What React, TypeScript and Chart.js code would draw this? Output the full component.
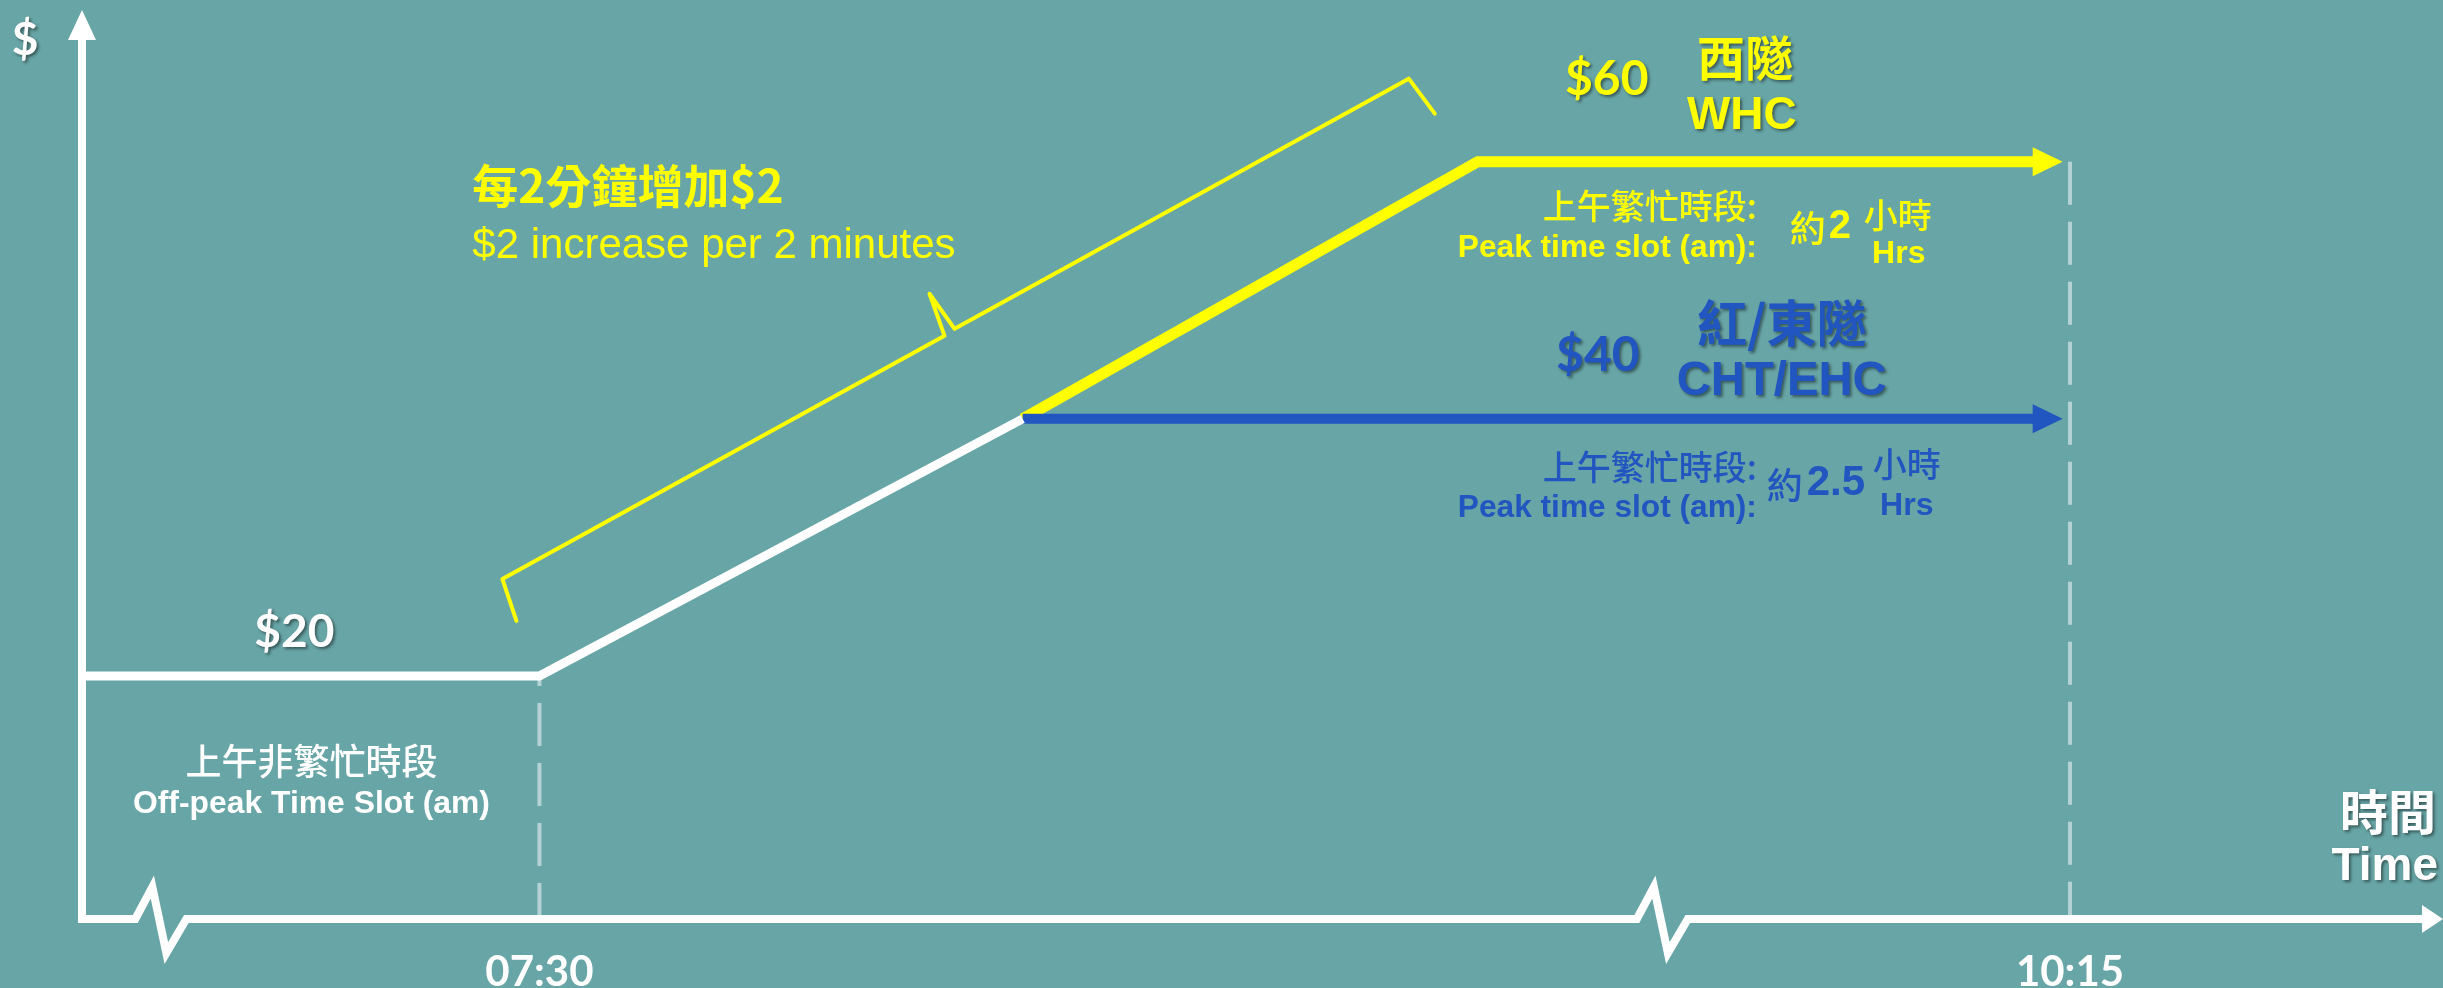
import { useEffect, useRef } from "react";
import { Chart, registerables } from "chart.js";

Chart.register(...registerables);

// ---------- data (schematic time axis: minutes after 07:30 as drawn; y = toll in $) ----------
const xRange = [-19.5, 81.15];
const yRange = [1.1, 71.8];
const tickValues = [0, 65.25];
const tickLabels = ["07:30", "10:15"];

const offPeakX = [-19.5, 0, 20.6];
const offPeakY = [20, 20, 40];
const whcX = [20.6, 40, 63.7];
const whcY = [40, 60, 60];
const ehcX = [20.6, 63.7];
const ehcY = [40, 40];
const braceX = [-0.98, -1.58, 17.27, 16.63, 17.7, 37.06, 38.17];
const braceY = [24.28, 27.55, 46.46, 49.73, 47.0, 66.46, 63.74];
const breakX = [-16.16, 47.85];

// ---------- styles ----------
const BG = "#68A5A6";
const WHITE = "#FFFFFF";
const YELLOW = "#FFFF00";
const BLUE = "#2155C0";
const DASH = "rgba(255,255,255,0.5)";
const CJK = "'Noto Sans CJK TC', 'Noto Sans CJK SC', sans-serif";
const ARIAL = "'Liberation Sans', Arial, sans-serif";
const LATO = "Lato, 'Liberation Sans', sans-serif";

type Note = {
  t: string; x: number; y: number; font: string; c: string;
  align?: CanvasTextAlign; shadow?: boolean; w?: number;
};

const notes: Note[] = [
  { t: "$20", x: -10.45, y: 23.42, font: `700 46px ${LATO}`, c: WHITE, shadow: true },
  { t: "上午非繁忙時段", x: -9.72, y: 13.39, font: `500 36px ${CJK}`, c: WHITE },
  { t: "Off-peak Time Slot (am)", x: -9.72, y: 10.04, font: `700 32px ${ARIAL}`, c: WHITE, w: 357 },
  { t: "每2分鐘增加$2", x: -2.86, y: 58.13, font: `700 46px ${CJK}`, c: YELLOW, align: "left", w: 346 },
  { t: "$2 increase per 2 minutes", x: -2.86, y: 53.4, font: `400 42px ${ARIAL}`, c: YELLOW, align: "left", w: 490 },
  { t: "$60", x: 45.5, y: 66.38, font: `700 48px ${LATO}`, c: YELLOW, shadow: true },
  { t: "西隧", x: 51.39, y: 68.09, font: `700 48px ${CJK}`, c: YELLOW, shadow: true },
  { t: "WHC", x: 51.26, y: 63.5, font: `700 46px ${ARIAL}`, c: YELLOW, shadow: true },
  { t: "上午繁忙時段:", x: 51.9, y: 56.58, font: `500 34px ${CJK}`, c: YELLOW, align: "right", w: 234 },
  { t: "Peak time slot (am):", x: 51.9, y: 53.31, font: `700 32px ${ARIAL}`, c: YELLOW, align: "right", w: 299 },
  { t: "約", x: 54.07, y: 54.79, font: `500 36px ${CJK}`, c: YELLOW },
  { t: "2", x: 55.44, y: 54.94, font: `700 40px ${ARIAL}`, c: YELLOW },
  { t: "小時", x: 57.91, y: 55.88, font: `500 34px ${CJK}`, c: YELLOW },
  { t: "Hrs", x: 57.95, y: 52.84, font: `700 32px ${ARIAL}`, c: YELLOW },
  { t: "$40", x: 45.12, y: 44.9, font: `700 48px ${LATO}`, c: BLUE, shadow: true },
  { t: "紅/東隧", x: 52.96, y: 47.47, font: `700 50px ${CJK}`, c: BLUE, shadow: true, w: 181 },
  { t: "CHT/EHC", x: 52.96, y: 42.88, font: `700 48px ${ARIAL}`, c: BLUE, shadow: true, w: 210 },
  { t: "上午繁忙時段:", x: 51.9, y: 36.26, font: `500 34px ${CJK}`, c: BLUE, align: "right", w: 234 },
  { t: "Peak time slot (am):", x: 51.9, y: 33.07, font: `700 32px ${ARIAL}`, c: BLUE, align: "right", w: 299 },
  { t: "約", x: 53.09, y: 34.86, font: `500 36px ${CJK}`, c: BLUE },
  { t: "2.5", x: 55.27, y: 34.94, font: `700 42px ${ARIAL}`, c: BLUE },
  { t: "小時", x: 58.29, y: 36.5, font: `500 34px ${CJK}`, c: BLUE },
  { t: "Hrs", x: 58.29, y: 33.23, font: `700 32px ${ARIAL}`, c: BLUE },
];

const zip = (xs: number[], ys: number[]) => xs.map((x, i) => ({ x, y: ys[i] }));

function drawText(ctx: CanvasRenderingContext2D, n: Note, px: number, py: number) {
  ctx.save();
  ctx.font = n.font;
  ctx.fillStyle = n.c;
  ctx.textAlign = n.align || "center";
  ctx.textBaseline = "middle";
  if (n.shadow) {
    ctx.shadowColor = "rgba(0,0,0,0.45)";
    ctx.shadowOffsetX = 2;
    ctx.shadowOffsetY = 2;
    ctx.shadowBlur = 3;
  }
  if (n.w) ctx.fillText(n.t, px, py, n.w);
  else ctx.fillText(n.t, px, py);
  ctx.restore();
}

const decorPlugin = {
  id: "decor",
  beforeDraw(chart: any) {
    const ctx = chart.ctx;
    ctx.save();
    ctx.fillStyle = BG;
    ctx.fillRect(0, 0, chart.width, chart.height);
    ctx.restore();
  },
  afterDatasetsDraw(chart: any) {
    const ctx: CanvasRenderingContext2D = chart.ctx;
    const { left, right, top, bottom } = chart.chartArea;
    const xs = chart.scales.x;
    const ys = chart.scales.y;

    // axes with arrows and breaks
    ctx.save();
    ctx.strokeStyle = WHITE;
    ctx.fillStyle = WHITE;
    ctx.lineWidth = 8;
    ctx.lineJoin = "miter";
    ctx.lineCap = "butt";
    ctx.beginPath();
    ctx.moveTo(left, top + 28);
    ctx.lineTo(left, bottom);
    const zz = [
      [-25, 0], [-8, -32], [6, 34], [26, 0],
    ];
    breakX.forEach((bx) => {
      const cx = xs.getPixelForValue(bx);
      zz.forEach(([dx, dy]) => ctx.lineTo(cx + dx, bottom + dy));
    });
    ctx.lineTo(right - 20, bottom);
    ctx.stroke();
    // y arrow
    ctx.beginPath();
    ctx.moveTo(left, top);
    ctx.lineTo(left + 14, top + 30);
    ctx.lineTo(left - 14, top + 30);
    ctx.closePath();
    ctx.fill();
    // x arrow
    ctx.beginPath();
    ctx.moveTo(right, bottom);
    ctx.lineTo(right - 21, bottom - 14);
    ctx.lineTo(right - 21, bottom + 14);
    ctx.closePath();
    ctx.fill();
    ctx.restore();

    // arrowheads on WHC and CHT/EHC lines
    [
      { idx: 1, color: YELLOW },
      { idx: 2, color: BLUE },
    ].forEach(({ idx, color }) => {
      const meta = chart.getDatasetMeta(idx);
      const last = meta.data[meta.data.length - 1];
      ctx.save();
      ctx.fillStyle = color;
      ctx.beginPath();
      ctx.moveTo(last.x - 1, last.y - 14.5);
      ctx.lineTo(last.x + 29, last.y);
      ctx.lineTo(last.x - 1, last.y + 14.5);
      ctx.closePath();
      ctx.fill();
      ctx.restore();
    });

    // annotations
    notes.forEach((n) => {
      drawText(ctx, n, xs.getPixelForValue(n.x), ys.getPixelForValue(n.y));
    });

    // axis titles
    drawText(ctx, { t: "$", x: 0, y: 0, font: `700 46px ${LATO}`, c: WHITE, shadow: true }, left - 57, top + 30);
    drawText(ctx, { t: "時間", x: 0, y: 0, font: `700 48px ${CJK}`, c: WHITE, align: "right", shadow: true }, right - 7, bottom - 107);
    drawText(ctx, { t: "Time", x: 0, y: 0, font: `700 46px ${ARIAL}`, c: WHITE, align: "right", shadow: true }, right - 5, bottom - 52);
  },
};

export default function App() {
  const ref = useRef<HTMLCanvasElement | null>(null);

  useEffect(() => {
    document.body.style.margin = "0";
    document.body.style.background = BG;
    const canvas = ref.current;
    if (!canvas) return;
    const chart = new Chart(canvas, {
      type: "line",
      data: {
        datasets: [
          {
            data: zip(offPeakX, offPeakY),
            borderColor: WHITE,
            borderWidth: 9,
            order: 1,
          },
          {
            data: zip(whcX, whcY),
            borderColor: YELLOW,
            borderWidth: 11,
            order: 3,
          },
          {
            data: zip(ehcX, ehcY),
            borderColor: BLUE,
            borderWidth: 10,
            order: 2,
          },
          {
            data: zip(braceX, braceY),
            borderColor: YELLOW,
            borderWidth: 4,
            borderJoinStyle: "round",
            borderCapStyle: "round",
            order: 4,
          },
          {
            data: [
              { x: tickValues[0], y: 20 },
              { x: tickValues[0], y: yRange[0] },
            ],
            borderColor: DASH,
            borderWidth: 4,
            borderDash: [43, 17],
            borderDashOffset: 33,
            order: 5,
          },
          {
            data: [
              { x: tickValues[1], y: 60 },
              { x: tickValues[1], y: yRange[0] },
            ],
            borderColor: DASH,
            borderWidth: 4,
            borderDash: [43, 17],
            order: 5,
          },
        ] as any,
      },
      options: {
        responsive: false,
        animation: false,
        devicePixelRatio: 1,
        layout: { padding: { left: 82, right: 0, top: 10, bottom: 0 } },
        elements: {
          point: { radius: 0, hoverRadius: 0 },
          line: { tension: 0, fill: false, borderJoinStyle: "miter", borderCapStyle: "butt" },
        },
        datasets: { line: { clip: false as any } },
        plugins: { legend: { display: false }, tooltip: { enabled: false } },
        scales: {
          x: {
            type: "linear",
            min: xRange[0],
            max: xRange[1],
            grid: { display: false, drawTicks: false },
            border: { display: false },
            ticks: {
              color: WHITE,
              font: { family: LATO, size: 42, weight: "bold" },
              padding: 28,
              maxRotation: 0,
              autoSkip: false,
              callback: (v: any) => {
                const i = tickValues.indexOf(Number(v));
                return i >= 0 ? tickLabels[i] : "";
              },
            },
            afterBuildTicks: (axis: any) => {
              axis.ticks = tickValues.map((v) => ({ value: v }));
            },
            afterFit: (axis: any) => {
              axis.height = 69;
            },
          },
          y: {
            type: "linear",
            min: yRange[0],
            max: yRange[1],
            display: false,
          },
        },
      },
      plugins: [decorPlugin],
    });
    return () => chart.destroy();
  }, []);

  return (
    <div style={{ position: "absolute", left: 0, top: 0, width: 2443, height: 988, background: BG }}>
      <canvas ref={ref} width={2443} height={988} style={{ width: 2443, height: 988, display: "block" }} />
    </div>
  );
}
